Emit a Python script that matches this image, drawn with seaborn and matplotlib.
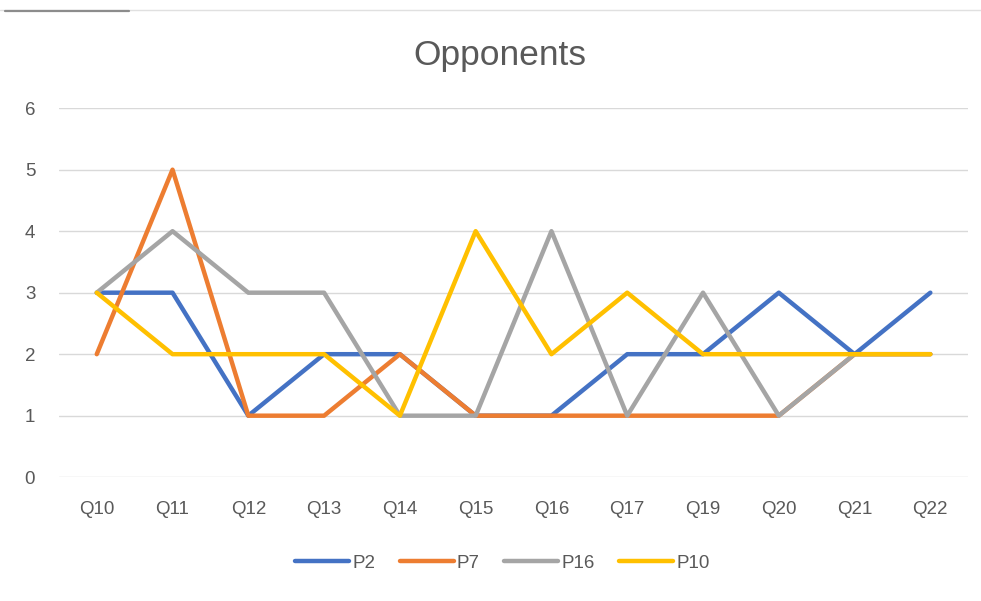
import pandas as pd
import seaborn as sns
import matplotlib.pyplot as plt
from matplotlib.lines import Line2D

# 데이터
questions = ['Q10', 'Q11', 'Q12', 'Q13', 'Q14', 'Q15', 'Q16', 'Q17', 'Q19', 'Q20', 'Q21', 'Q22']
p2 = [3, 3, 1, 2, 2, 1, 1, 2, 2, 3, 2, 3]
p7 = [2, 5, 1, 1, 2, 1, 1, 1, 1, 1, 2, 2]
p16 = [3, 4, 3, 3, 1, 1, 4, 1, 3, 1, 2, 2]
p10 = [3, 2, 2, 2, 1, 4, 2, 3, 2, 2, 2, 2]
series_names = ['P2', 'P7', 'P16', 'P10']
palette = ['#4472C4', '#ED7D31', '#A5A5A5', '#FFC000']

frames = []
for name, vals in zip(series_names, [p2, p7, p16, p10]):
    frames.append(pd.DataFrame({'question': questions, 'value': vals, 'player': name}))
df = pd.concat(frames, ignore_index=True)

sns.set_theme(style='white')
plt.rcParams['font.family'] = ['Liberation Sans', 'DejaVu Sans']

fig = plt.figure(figsize=(9.81, 6.01), dpi=100)
ax = fig.add_axes([0.060, 0.206, 0.927, 0.614])

sns.lineplot(data=df, x='question', y='value', hue='player', hue_order=series_names,
             palette=palette, linewidth=3.2, sort=False, ax=ax, legend=False)

ax.set_xlim(-0.5, len(questions) - 0.5)
ax.set_ylim(0, 6)
ax.set_yticks(range(0, 7))
ax.grid(axis='y', color='#D9D9D9', linewidth=1)
ax.set_axisbelow(True)
for s in ax.spines.values():
    s.set_visible(False)
ax.tick_params(axis='both', length=0, labelsize=13.5, labelcolor='#595959')
ax.tick_params(axis='x', pad=17)
ax.tick_params(axis='y', pad=17)
ax.set_xlabel('')
ax.set_ylabel('')

fig.suptitle('Opponents', x=0.51, y=0.908, fontsize=25.5, color='#595959', va='center')

handles = [Line2D([0], [0], color=c, linewidth=3.2, solid_capstyle='round') for c in palette]
fig.legend(handles, series_names, loc='center', bbox_to_anchor=(0.512, 0.063), ncol=4,
           frameon=False, fontsize=13.5, labelcolor='#595959', handlelength=2.9,
           handletextpad=0.15, columnspacing=1.3)

# 상단 테두리 선
fig.add_artist(Line2D([0, 1], [0.983, 0.983], color='#E0E0E0', linewidth=1))
fig.add_artist(Line2D([0.005, 0.132], [0.982, 0.982], color='#8C8C8C', linewidth=1.6))

fig.savefig('out.png', dpi=100)
